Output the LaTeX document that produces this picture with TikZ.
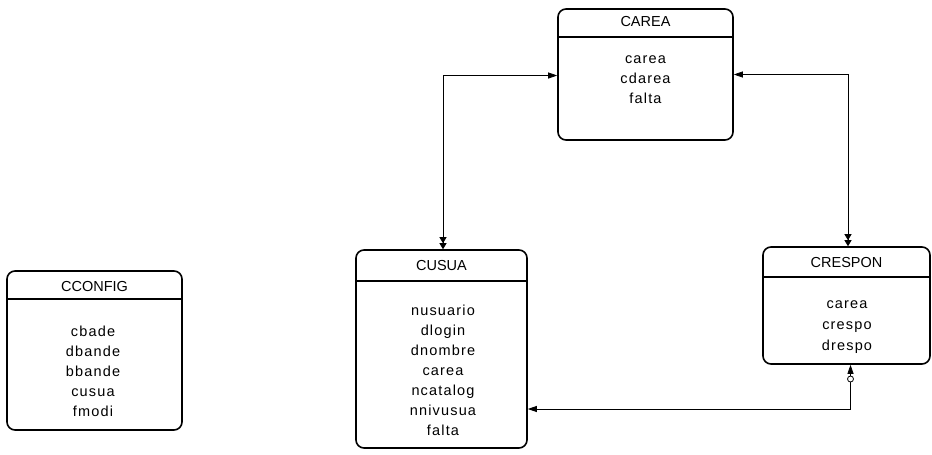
\documentclass[tikz,border=0pt]{standalone}
\usepackage{fontspec}
\setmainfont{Liberation Sans}
\newfontfamily\fieldfont{Liberation Sans}[LetterSpace=8]
\usetikzlibrary{arrows.meta}
\tikzset{
  onetip/.tip={Triangle[length=9pt,width=6pt]},
  manytip/.tip={Triangle[length=6pt,width=7pt] Triangle[length=6pt,width=7pt]},
}
\begin{document}
\begin{tikzpicture}[x=1pt,y=-1pt,
  ebox/.style={draw, line width=1.6pt, rounded corners=8pt, inner sep=0pt},
  etitle/.style={font=\fontsize{14.5}{16}\selectfont, inner sep=0pt},
  efields/.style={font=\fieldfont\fontsize{14.5}{20}\selectfont, align=center, inner sep=0pt},
  divider/.style={line width=1.4pt},
  rel/.style={line width=0.8pt},
]
\useasboundingbox (0,0) rectangle (932,455);

% CAREA
\node[ebox, minimum width=175pt, minimum height=131pt] (carea) at (645.5,74.5) {};
\node[etitle] (carea-t) at (645.5,22) {CAREA};
\draw[divider] (carea.west |- 0,37) -- (carea.east |- 0,37);
\node[efields] (carea-f) at (645.5,80) {carea\\cdarea\\falta};

% CUSUA
\node[ebox, minimum width=171pt, minimum height=198pt] (cusua) at (441.5,349) {};
\node[etitle] (cusua-t) at (441.5,266) {CUSUA};
\draw[divider] (cusua.west |- 0,281) -- (cusua.east |- 0,281);
\node[efields] (cusua-f) at (443,370) {nusuario\\dlogin\\dnombre\\carea\\ncatalog\\nnivusua\\falta};

% CRESPON
\node[ebox, minimum width=167pt, minimum height=117pt] (crespon) at (846.5,305.5) {};
\node[etitle] (crespon-t) at (846.5,263) {CRESPON};
\draw[divider] (crespon.west |- 0,277) -- (crespon.east |- 0,277);
\node[efields, font=\fieldfont\fontsize{14.5}{21}\selectfont] (crespon-f) at (847,327) {carea\\crespo\\drespo};

% CCONFIG
\node[ebox, minimum width=175pt, minimum height=159pt] (cconfig) at (94.5,350.5) {};
\node[etitle] (cconfig-t) at (94.5,287) {CCONFIG};
\draw[divider] (cconfig.west |- 0,299) -- (cconfig.east |- 0,299);
\node[efields] (cconfig-f) at (93,371) {cbade\\dbande\\bbande\\cusua\\fmodi};

% relationships
\draw[rel, {onetip}-{manytip}] ([yshift=-1pt]carea.west) -| ([xshift=1.5pt]cusua.north);
\draw[rel, {onetip}-{manytip}] (carea.east) -| ([xshift=1.5pt]crespon.north);
\coordinate (cusua-r) at (cusua.east |- 0,409);
\coordinate (crespon-b) at ([xshift=4pt]crespon.south);
\draw[rel, {onetip}-{onetip}] (cusua-r) -| (crespon-b);
\node[draw, circle, line width=0.8pt, fill=white, inner sep=0pt, minimum size=6pt] (opt) at (crespon-b |- 0,379) {};
\end{tikzpicture}
\end{document}
